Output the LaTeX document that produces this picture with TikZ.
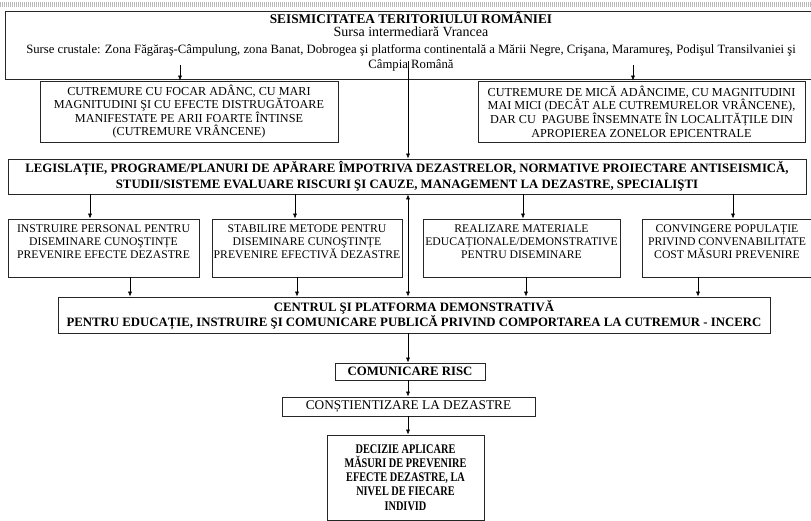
\documentclass[tikz,border=0pt]{standalone}
\usepackage{fontspec}
\setmainfont{Liberation Serif}
\newfontfamily\narrowserif[FakeStretch=0.78]{Liberation Serif}
\usepackage{tikz}
\usetikzlibrary{arrows.meta, calc}

\begin{document}
\begin{tikzpicture}[
    x=1pt, y=-1pt,
    every text node part/.style={align=center},
    box/.style={draw=black!85, line width=0.7pt, fill=white, inner sep=1pt},
    btext/.style={inner sep=1pt, font=\fontsize{12.2}{13.6}\selectfont},
    acttext/.style={inner sep=1pt, font=\fontsize{11.7}{13.3}\selectfont},
    bold/.style={font=\fontsize{12.8}{15.5}\selectfont\bfseries},
    arr/.style={-{Latex[length=5pt,width=4pt]}, line width=0.6pt},
    dblarr/.style={{Latex[length=5pt,width=4pt]}-{Latex[length=5pt,width=4pt]}, line width=0.6pt}
]
\useasboundingbox (0,0) rectangle (811,521);

% Hatched strip on top
\foreach \i in {0,2,...,810} \draw[gray!55, line width=0.5pt] (\i,2) -- (\i,7);

% 1. Seismicity of the territory
\node[box, minimum width=812pt, minimum height=68pt] (seism) at (411,45) {};
\node[inner sep=0pt, below=1pt, font=\fontsize{12.7}{15}\selectfont] (seism-t) at (seism.north)
    {{\fontsize{13.3}{15}\selectfont\bfseries SEISMICITATEA TERITORIULUI ROMÂNIEI}\\[-1.5pt]
     {\fontsize{14}{15}\selectfont Sursa intermediară Vrancea}\\[1.5pt]
     Surse crustale: Zona Făgăraş-Câmpulung, zona Banat, Dobrogea şi platforma continentală a Mării Negre, Crişana, Maramureş, Podişul Transilvaniei şi\\
     Câmpia Română};

% 2. Earthquake types
\node[box, btext, minimum width=298pt, minimum height=61pt] (vrancea) at (189,111.5)
    {CUTREMURE CU FOCAR ADÂNC, CU MARI\\
     MAGNITUDINI ŞI CU EFECTE DISTRUGĂTOARE\\
     MANIFESTATE PE ARII FOARTE ÎNTINSE\\
     (CUTREMURE VRÂNCENE)};
\node[box, btext, minimum width=327pt, minimum height=61pt] (crustal) at (641.5,111.5)
    {CUTREMURE DE MICĂ ADÂNCIME, CU MAGNITUDINI\\
     MAI MICI (DECÂT ALE CUTREMURELOR VRÂNCENE),\\
     DAR CU \ PAGUBE ÎNSEMNATE ÎN LOCALITĂȚILE DIN\\
     APROPIEREA ZONELOR EPICENTRALE};

% 3. Legislation
\node[box, bold, minimum width=798pt, minimum height=35pt] (legis) at (407,176.5)
    {LEGISLAȚIE, PROGRAME/PLANURI DE APĂRARE ÎMPOTRIVA DEZASTRELOR, NORMATIVE PROIECTARE ANTISEISMICĂ,\\
     STUDII/SISTEME EVALUARE RISCURI ŞI CAUZE, MANAGEMENT LA DEZASTRE, SPECIALIŞTI};

% 4. Actions
\node[box, minimum width=191pt, minimum height=58pt] (instr) at (103.5,248) {};
\node[box, minimum width=190pt, minimum height=58pt] (metode) at (307,248) {};
\node[box, minimum width=197pt, minimum height=58pt] (material) at (521.5,248) {};
\node[box, minimum width=170pt, minimum height=58pt] (convingere) at (727,248) {};
\node[acttext, below=4.5pt] (instr-t) at (instr.north)
    {INSTRUIRE PERSONAL PENTRU\\ DISEMINARE CUNOŞTINȚE\\ PREVENIRE EFECTE DEZASTRE};
\node[acttext, below=4.5pt] (metode-t) at (metode.north)
    {STABILIRE METODE PENTRU\\ DISEMINARE CUNOŞTINȚE\\ PREVENIRE EFECTIVĂ DEZASTRE};
\node[acttext, below=4.5pt] (material-t) at (material.north)
    {REALIZARE MATERIALE\\ EDUCAȚIONALE/DEMONSTRATIVE\\ PENTRU DISEMINARE};
\node[acttext, below=4.5pt] (convingere-t) at (convingere.north)
    {CONVINGERE POPULAȚIE\\ PRIVIND CONVENABILITATE\\ COST MĂSURI PREVENIRE};

% 5. Demonstration centre
\node[box, bold, minimum width=712pt, minimum height=36pt] (centru) at (414,315)
    {CENTRUL ŞI PLATFORMA DEMONSTRATIVĂ\\
     PENTRU EDUCAȚIE, INSTRUIRE ŞI COMUNICARE PUBLICĂ PRIVIND COMPORTAREA LA CUTREMUR - INCERC};

% 6. Chain to the individual
\node[box, bold, minimum width=150pt, minimum height=17pt] (risc) at (410,371.5) {COMUNICARE RISC};
\node[box, minimum width=253pt, minimum height=19pt, font=\fontsize{13.3}{15}\selectfont] (constient) at (408.5,406.5)
    {CONȘTIENTIZARE LA DEZASTRE};
\node[box, minimum width=157pt, minimum height=85pt, font=\narrowserif\fontsize{13.2}{14.2}\selectfont\bfseries] (decizie) at (405.5,477.5)
    {DECIZIE APLICARE\\ MĂSURI DE PREVENIRE\\ EFECTE DEZASTRE, LA\\ NIVEL DE FIECARE\\ INDIVID};

% Connectors
\coordinate (s1) at (180,65);
\coordinate (s2) at (633,65);
\coordinate (s0) at (408,61);
\draw[arr] (s1) -- (s1 |- vrancea.north);
\draw[arr] (s2) -- (s2 |- crustal.north);
\draw[arr] (s0) -- (s0 |- legis.north);

\draw[arr] (legis.south -| 90,0) -- (instr.north -| 90,0);
\draw[arr] (legis.south -| 295,0) -- (metode.north -| 295,0);
\draw[arr] (legis.south -| 523,0) -- (material.north -| 523,0);
\draw[arr] (legis.south -| 733,0) -- (convingere.north -| 733,0);
\draw[dblarr] (legis.south -| 408,0) -- (centru.north -| 408,0);

\draw[arr] (instr.south -| 130,0) -- (centru.north -| 130,0);
\draw[arr] (metode.south -| 297,0) -- (centru.north -| 297,0);
\draw[arr] (material.south -| 526,0) -- (centru.north -| 526,0);
\draw[arr] (convingere.south -| 698,0) -- (centru.north -| 698,0);

\draw[arr] (centru.south -| 408,0) -- (risc.north -| 408,0);
\draw[arr] (risc.south -| 408,0) -- (constient.north -| 408,0);
\draw[arr] (constient.south -| 408,0) -- (decizie.north -| 408,0);

\end{tikzpicture}
\end{document}
